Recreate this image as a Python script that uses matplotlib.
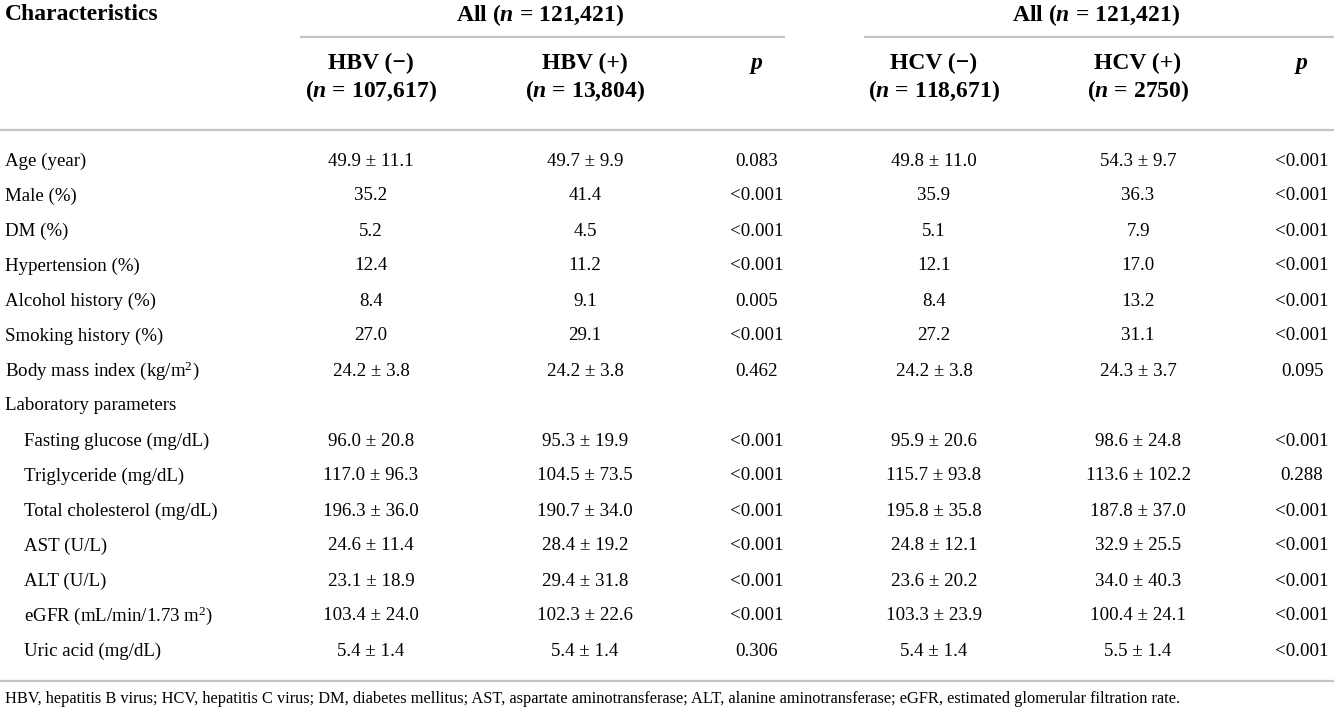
import matplotlib
matplotlib.use("Agg")
import matplotlib.pyplot as plt

plt.rcParams['font.family'] = ['Liberation Serif', 'DejaVu Serif']
plt.rcParams['mathtext.fontset'] = 'custom'
plt.rcParams['mathtext.rm'] = 'Liberation Serif'
plt.rcParams['mathtext.it'] = 'Liberation Serif:italic'
plt.rcParams['mathtext.bf'] = 'Liberation Serif:bold'
plt.rcParams['mathtext.bfit'] = 'Liberation Serif:italic:bold'

# ---------------- data ----------------
characteristics = [
    "Age (year)", "Male (%)", "DM (%)", "Hypertension (%)", "Alcohol history (%)",
    "Smoking history (%)", r"Body mass index (kg/m$^{2}$)", "Laboratory parameters",
    "Fasting glucose (mg/dL)", "Triglyceride (mg/dL)", "Total cholesterol (mg/dL)",
    "AST (U/L)", "ALT (U/L)", r"eGFR (mL/min/1.73 m$^{2}$)", "Uric acid (mg/dL)",
]
indented = [False] * 8 + [True] * 7

hbv_neg = ["49.9 ± 11.1", "35.2", "5.2", "12.4", "8.4", "27.0", "24.2 ± 3.8", "",
           "96.0 ± 20.8", "117.0 ± 96.3", "196.3 ± 36.0", "24.6 ± 11.4", "23.1 ± 18.9",
           "103.4 ± 24.0", "5.4 ± 1.4"]
hbv_pos = ["49.7 ± 9.9", "41.4", "4.5", "11.2", "9.1", "29.1", "24.2 ± 3.8", "",
           "95.3 ± 19.9", "104.5 ± 73.5", "190.7 ± 34.0", "28.4 ± 19.2", "29.4 ± 31.8",
           "102.3 ± 22.6", "5.4 ± 1.4"]
p_hbv = ["0.083", "<0.001", "<0.001", "<0.001", "0.005", "<0.001", "0.462", "",
         "<0.001", "<0.001", "<0.001", "<0.001", "<0.001", "<0.001", "0.306"]
hcv_neg = ["49.8 ± 11.0", "35.9", "5.1", "12.1", "8.4", "27.2", "24.2 ± 3.8", "",
           "95.9 ± 20.6", "115.7 ± 93.8", "195.8 ± 35.8", "24.8 ± 12.1", "23.6 ± 20.2",
           "103.3 ± 23.9", "5.4 ± 1.4"]
hcv_pos = ["54.3 ± 9.7", "36.3", "7.9", "17.0", "13.2", "31.1", "24.3 ± 3.7", "",
           "98.6 ± 24.8", "113.6 ± 102.2", "187.8 ± 37.0", "32.9 ± 25.5", "34.0 ± 40.3",
           "100.4 ± 24.1", "5.5 ± 1.4"]
p_hcv = ["<0.001", "<0.001", "<0.001", "<0.001", "<0.001", "<0.001", "0.095", "",
         "<0.001", "0.288", "<0.001", "<0.001", "<0.001", "<0.001", "<0.001"]

group_header = r"All ($\mathbfit{n}$ = 121,421)"
sub_headers = ["HBV (\u2212)", "HBV (+)", "HCV (\u2212)", "HCV (+)"]
sub_ns = [r"($\mathbfit{n}$ = 107,617)", r"($\mathbfit{n}$ = 13,804)",
          r"($\mathbfit{n}$ = 118,671)", r"($\mathbfit{n}$ = 2750)"]
footnote = ("HBV, hepatitis B virus; HCV, hepatitis C virus; DM, diabetes mellitus; "
            "AST, aspartate aminotransferase; ALT, alanine aminotransferase; "
            "eGFR, estimated glomerular filtration rate.")

# ---------------- layout (pixels) ----------------
W, H = 1334, 717
fig = plt.figure(figsize=(W / 100, H / 100), dpi=100)
ax = fig.add_axes([0, 0, 1, 1])
ax.set_xlim(0, W)
ax.set_ylim(H, 0)
ax.axis('off')

col_x = [371, 585, 757, 934, 1138, 1302]
label_x = 5
indent_x = 24
row_y0, row_dy = 161, 35
fs = 13.6
hfs = 17
line_col = '#c4c4c4'
lw = 1.6

# header
ax.text(label_x, 15, "Characteristics", fontsize=hfs, fontweight='bold', va='center', ha='left')
ax.text(540, 15, group_header, fontsize=hfs, fontweight='bold', va='center', ha='center')
ax.text(1096, 15, group_header, fontsize=hfs, fontweight='bold', va='center', ha='center')
ax.plot([300, 785], [37, 37], color=line_col, lw=lw, solid_capstyle='butt')
ax.plot([864, W], [37, 37], color=line_col, lw=lw, solid_capstyle='butt')

for cx, h, n in zip([col_x[0], col_x[1], col_x[3], col_x[4]], sub_headers, sub_ns):
    ax.text(cx, 63, h, fontsize=hfs, fontweight='bold', va='center', ha='center')
    ax.text(cx, 91, n, fontsize=hfs, fontweight='bold', va='center', ha='center')
for cx in (col_x[2], col_x[5]):
    ax.text(cx, 63, "p", fontsize=hfs, fontweight='bold', fontstyle='italic',
            va='center', ha='center')

ax.plot([0, W], [130, 130], color=line_col, lw=lw, solid_capstyle='butt')

# body
columns = [hbv_neg, hbv_pos, p_hbv, hcv_neg, hcv_pos, p_hcv]
for i, lab in enumerate(characteristics):
    y = row_y0 + row_dy * i
    ax.text(indent_x if indented[i] else label_x, y, lab, fontsize=fs,
            va='center', ha='left')
    for cx, col in zip(col_x, columns):
        if col[i]:
            ax.text(cx, y, col[i], fontsize=fs, va='center', ha='center')

ax.plot([0, W], [681, 681], color=line_col, lw=lw, solid_capstyle='butt')
ax.text(label_x, 699, footnote, fontsize=11.8, va='center', ha='left')

fig.savefig("out.png", dpi=100)
